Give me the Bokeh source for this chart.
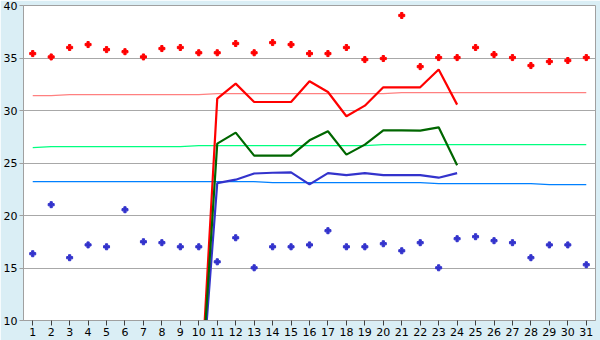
from bokeh.plotting import figure
from bokeh.models import Range1d, FixedTicker
from bokeh.embed import file_html
from bokeh.resources import INLINE

days = list(range(1, 32))

red_dots = [35.42, 35.1, 36.0, 36.28, 35.8, 35.6, 35.1, 35.9, 36.0, 35.5,
            35.5, 36.38, 35.5, 36.47, 36.28, 35.42, 35.42, 36.0, 34.85, 34.95,
            39.05, 34.18, 35.04, 35.04, 36.0, 35.33, 35.04, 34.28, 34.66, 34.76, 35.04]
blue_dots = [16.36, 21.03, 15.98, 17.2, 17.02, 20.55, 17.5, 17.41, 17.02, 17.02,
             15.59, 17.88, 15.02, 17.02, 17.02, 17.2, 18.55, 17.02, 17.02, 17.31,
             16.64, 17.41, 15.02, 17.79, 17.98, 17.6, 17.41, 15.98, 17.2, 17.2, 15.31]

line_days = list(range(10, 25))
red_line = [0, 31.13, 32.56, 30.81, 30.81, 30.81, 32.78, 31.76, 29.45, 30.46,
            32.21, 32.21, 32.21, 33.9, 30.56]
green_line = [0, 26.84, 27.89, 25.7, 25.7, 25.7, 27.16, 28.02, 25.8, 26.75,
              28.11, 28.11, 28.08, 28.4, 24.78]
blue_line = [0, 23.09, 23.41, 24.0, 24.07, 24.1, 22.96, 24.04, 23.85, 24.04,
             23.85, 23.85, 23.85, 23.6, 24.04]

red_ref = [31.42] * 2 + [31.52] * 8 + [31.61] * 10 + [31.71] * 11
green_ref = [26.46] * 1 + [26.56] * 8 + [26.65] * 10 + [26.75] * 12
blue_ref = [23.22] * 13 + [23.13] * 9 + [23.03] * 6 + [22.94] * 3

y_ticks = [10, 15, 20, 25, 30, 35, 40]

p = figure(width=600, height=340, output_backend="svg", toolbar_location=None,
           x_range=Range1d(0.5, 31.5), y_range=Range1d(10, 40),
           min_border_left=20, min_border_right=5, min_border_top=5, min_border_bottom=20)

p.border_fill_color = "#DAEEF5"
p.background_fill_color = "white"
p.outline_line_color = "#A0A0A0"
p.outline_line_width = 1

for ax in (p.xaxis[0], p.yaxis[0]):
    ax.axis_line_color = "#A0A0A0"
    ax.major_tick_line_color = "#404040"
    ax.minor_tick_line_color = None
    ax.major_tick_in = 0
    ax.major_label_text_font = "DejaVu Sans"
    ax.major_label_text_font_size = "11px"
    ax.major_label_text_color = "black"
    ax.major_label_standoff = 2

p.xaxis.ticker = FixedTicker(ticks=days)
p.xaxis.major_tick_out = 5
p.yaxis.ticker = FixedTicker(ticks=y_ticks)
p.yaxis.major_tick_out = 4
p.yaxis.major_tick_line_color = "#A0A0A0"

p.xgrid.grid_line_color = None
p.ygrid.grid_line_color = "#A8A8A8"
p.ygrid.grid_line_width = 1

p.line(days, red_ref, line_color="#FF8080", line_width=1.2)
p.line(days, green_ref, line_color="#00FF80", line_width=1.2)
p.line(days, blue_ref, line_color="#0080FF", line_width=1.2)

p.line(line_days, blue_line, line_color="#3333CC", line_width=2.2)
p.line(line_days, red_line, line_color="#FF0000", line_width=2.2)
p.line(line_days, green_line, line_color="#006600", line_width=2.2)

p.scatter(days, red_dots, marker="plus", size=6, fill_color="#FF0000", line_color="#FF0000")
p.scatter(days, blue_dots, marker="plus", size=6, fill_color="#3333CC", line_color="#3333CC")

open("out.html", "w").write(file_html(p, INLINE))
